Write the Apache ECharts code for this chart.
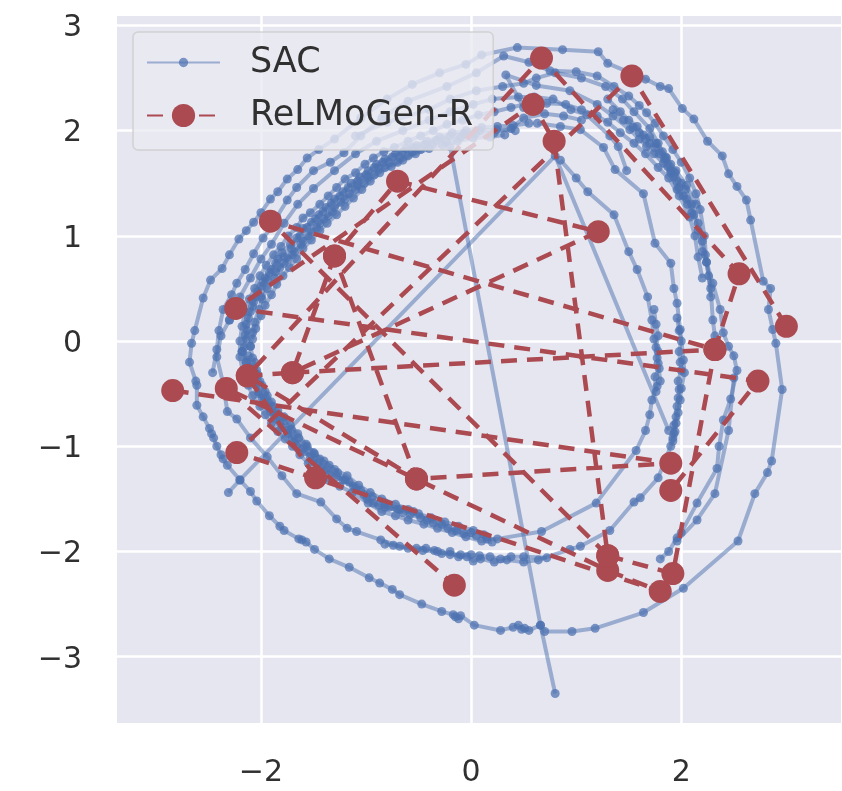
<!DOCTYPE html>
<html><head><meta charset="utf-8">
<style>html,body{margin:0;padding:0;background:#fff}#c{width:842px;height:791px;filter:blur(0.7px)}</style>
<script src="https://cdn.jsdelivr.net/npm/echarts@6/dist/echarts.min.js"></script>
</head><body><div id="c"></div>
<script>
const xTicks=[-2,0,2];
const yTicks=[-3,-2,-1,0,1,2,3];
const sacOuter=[[-2.61,-.42],[-2.61,-.61],[-2.55,-.72],[-2.49,-.83],[-2.47,-.88],[-2.45,-.92],[-2.42,-1.0],[-2.38,-1.08],[-2.36,-1.12],[-2.32,-1.18],[-2.2,-1.32],[-2.1,-1.43],[-2.04,-1.52],[-1.92,-1.66],[-1.82,-1.76],[-1.78,-1.8],[-1.64,-1.88],[-1.61,-1.89],[-1.57,-1.91],[-1.49,-1.98],[-1.35,-2.07],[-1.16,-2.15],[-.97,-2.25],[-.87,-2.3],[-.75,-2.36],[-.68,-2.41],[-.47,-2.5],[-.28,-2.57],[-.17,-2.6],[-.15,-2.62],[-.12,-2.64],[-.1,-2.61],[.03,-2.7],[.28,-2.75],[.4,-2.72],[.45,-2.7],[.48,-2.74],[.51,-2.73],[.55,-2.75],[.66,-2.7],[.7,-2.76],[.96,-2.76],[1.18,-2.73],[1.64,-2.58],[2.02,-2.35],[2.54,-1.9],[2.7,-1.45],[2.82,-1.25],[2.86,-1.14],[2.96,-.46],[2.9,-.02],[2.87,.11],[2.83,.3],[2.85,.5],[2.78,.57],[2.66,1.15],[2.62,1.34],[2.53,1.47],[2.45,1.59],[2.39,1.76],[2.25,1.9],[2.12,2.11],[2.01,2.21],[1.88,2.4],[1.8,2.42],[1.66,2.49],[1.3,2.64],[1.21,2.75],[.87,2.77],[.44,2.79],[.1,2.72],[-.05,2.63],[-.3,2.55],[-.56,2.44],[-.8,2.3],[-1.05,2.12],[-1.3,1.92],[-1.45,1.82],[-1.56,1.74],[-1.65,1.63],[-1.75,1.54],[-1.84,1.42],[-1.91,1.35],[-2.0,1.22],[-2.07,1.13],[-2.14,1.05],[-2.21,.97],[-2.3,.82],[-2.37,.69],[-2.48,.58],[-2.55,.41],[-2.63,.1],[-2.66,-.02],[-2.68,-.2],[-2.62,-.38]];
const sacSecond=[[-2.46,-.3],[-2.42,-.08],[-2.4,.1],[-2.36,.3],[-2.28,.44],[-2.23,.55],[-2.15,.68],[-2.07,.83],[-1.98,.98],[-1.9,1.08],[-1.85,1.18],[-1.75,1.34],[-1.66,1.46],[-1.5,1.62],[-1.34,1.7],[-1.21,1.79],[-1.05,1.95],[-.85,2.12],[-.6,2.28],[-.23,2.42],[.05,2.55],[.31,2.71],[.55,2.65],[.75,2.57],[1.0,2.56],[1.2,2.52],[1.36,2.42],[1.5,2.33],[1.6,2.24],[1.67,2.17],[1.75,2.07],[1.83,1.95],[1.92,1.82],[2.0,1.7],[2.08,1.55],[2.14,1.4],[2.18,1.25],[2.22,1.0],[2.24,.75],[2.3,.55],[2.37,.3],[2.4,.08],[2.45,-.05],[2.5,-.14],[2.53,-.28],[2.47,-.55],[2.4,-.75],[2.36,-1.0],[2.34,-1.21],[2.15,-1.54],[2.0,-1.82],[1.96,-1.87],[1.88,-2.0],[1.8,-2.07]];
const sacThird=[[2.5,-.35],[2.45,-.85],[2.32,-1.45],[2.15,-1.7],[1.96,-1.9]];
const sacLoopC=[[.63,2.07],[.85,2.04],[1.04,2.01],[1.26,1.84],[1.37,1.63],[1.64,1.4],[1.75,.93],[1.9,.74],[1.93,.5],[1.96,.36],[1.99,.11],[2.02,-.18],[2.03,-.3],[2.0,-.45],[1.99,-.56],[1.97,-.68],[1.95,-.78],[1.93,-.88],[1.92,-.95],[1.9,-1.0],[1.78,-1.3],[1.61,-1.49],[1.55,-1.53],[1.32,-1.8],[1.04,-1.95],[.94,-1.98],[.64,-2.08],[.5,-2.1],[.34,-2.08],[.22,-2.1],[.09,-2.07],[.02,-2.09],[-.04,-2.05],[-.12,-2.05],[-.2,-2.0],[-.28,-2.02],[-.35,-1.99],[-.43,-1.97],[-.52,-1.97],[-.68,-1.95],[-.86,-1.89],[-1.09,-1.81],[-1.18,-1.78],[-1.28,-1.69],[-1.43,-1.53],[-1.66,-1.45],[-1.8,-1.28],[-1.94,-1.1],[-2.1,-.92],[-2.23,-.74],[-2.32,-.67],[-2.36,-.4],[-2.42,-.15],[-2.38,.05],[-2.3,.2]];
const sacLoopD=[[.5,2.22],[.33,2.53],[.62,2.43],[.94,2.38],[1.2,2.25],[1.35,2.14],[1.51,2.01],[1.6,1.92],[1.67,1.85],[1.74,1.78],[1.83,1.69],[1.9,1.6],[1.96,1.44],[2.05,1.35],[2.12,1.2],[2.16,1.05],[2.2,.85],[2.24,.75],[2.28,.5],[2.3,.2],[2.32,.05],[2.35,-.12]];
const sacLoopE=[[.85,1.72],[1.0,1.55],[1.11,1.42],[1.36,1.2],[1.5,.85],[1.58,.68],[1.68,.42],[1.72,.2],[1.74,.02],[1.78,-.1],[1.78,-.21],[1.8,-.38],[1.77,-.43],[1.72,-.56],[1.7,-.7],[1.66,-.85],[1.57,-1.04],[1.19,-1.54],[.67,-1.81],[.25,-1.88],[.15,-1.88]];
const sacBandLow1=[[-2.18,-.1],[-2.14,-.2],[-2.1,-.25],[-2.08,-.35],[-2.05,-.42],[-2.02,-.5],[-1.97,-.56],[-1.93,-.63],[-1.88,-.7],[-1.82,-.78],[-1.75,-.85],[-1.7,-.92],[-1.65,-.98],[-1.58,-1.05],[-1.5,-1.13],[-1.42,-1.2],[-1.35,-1.26],[-1.22,-1.32],[-1.12,-1.38],[-1.02,-1.46],[-.93,-1.54],[-.82,-1.58],[-.7,-1.6],[-.58,-1.65],[-.48,-1.68],[-.36,-1.73],[-.22,-1.78],[-.07,-1.83],[.05,-1.85],[.15,-1.86]];
const sacBandLow2=[[-2.1,-.05],[-2.08,-.16],[-2.04,-.28],[-2.01,-.38],[-1.96,-.48],[-1.9,-.58],[-1.84,-.66],[-1.78,-.72],[-1.72,-.8],[-1.65,-.88],[-1.57,-.98],[-1.49,-1.07],[-1.4,-1.14],[-1.3,-1.22],[-1.18,-1.28],[-1.07,-1.37],[-.96,-1.44],[-.85,-1.5],[-.72,-1.55],[-.6,-1.6],[-.5,-1.64],[-.38,-1.68],[-.25,-1.72],[-.12,-1.76],[.02,-1.8],[.12,-1.84]];
const sacBandLow3=[[-2.17,-.3],[-2.12,-.42],[-2.08,-.52],[-2.01,-.62],[-1.96,-.7],[-1.9,-.78],[-1.84,-.86],[-1.77,-.93],[-1.7,-1.0],[-1.63,-1.08],[-1.55,-1.16],[-1.47,-1.24],[-1.36,-1.32],[-1.25,-1.38],[-1.13,-1.44],[-.98,-1.54],[-.85,-1.62],[-.72,-1.66],[-.6,-1.7],[-.45,-1.74],[-.32,-1.78],[-.18,-1.82],[-.05,-1.86],[.1,-1.9],[.2,-1.91]];
const sacBandLow4=[[-2.12,-.14],[-2.1,-.3],[-2.06,-.4],[-2.03,-.48],[-1.99,-.54],[-1.95,-.6],[-1.91,-.67],[-1.86,-.74],[-1.8,-.82],[-1.74,-.88],[-1.68,-.95],[-1.6,-1.02],[-1.53,-1.1],[-1.46,-1.16],[-1.38,-1.22],[-1.28,-1.29],[-1.16,-1.34],[-1.05,-1.42],[-.94,-1.48],[-.82,-1.54],[-.68,-1.6],[-.55,-1.62],[-.42,-1.7],[-.28,-1.74],[-.14,-1.8],[0,-1.82]];
const sacBandLow5=[[-2.06,-.2],[-2.03,-.32],[-1.99,-.42],[-1.94,-.52],[-1.89,-.62],[-1.84,-.7],[-1.78,-.76],[-1.71,-.84],[-1.64,-.92],[-1.56,-1.0],[-1.5,-1.06],[-1.44,-1.12],[-1.35,-1.18],[-1.27,-1.25],[-1.2,-1.32],[-1.1,-1.4],[-.99,-1.5],[-.88,-1.56],[-.78,-1.58],[-.65,-1.63]];
const sacBandUp1=[[-2.18,-.1],[-2.14,.02],[-2.13,.1],[-2.12,.22],[-2.08,.33],[-2.05,.42],[-2.0,.52],[-1.96,.6],[-1.9,.68],[-1.84,.78],[-1.8,.84],[-1.72,.92],[-1.66,.98],[-1.6,1.07],[-1.52,1.13],[-1.45,1.2],[-1.38,1.27],[-1.3,1.35],[-1.22,1.42],[-1.14,1.5],[-1.06,1.56],[-.98,1.62],[-.9,1.68],[-.82,1.73],[-.72,1.78],[-.62,1.83],[-.52,1.86],[-.42,1.9],[-.3,1.94],[-.18,1.98],[-.05,2.0],[.1,2.03],[.25,2.04],[.4,2.05],[.55,2.07]];
const sacBandUp2=[[-2.1,-.05],[-2.08,.08],[-2.06,.18],[-2.02,.3],[-1.99,.4],[-1.94,.5],[-1.87,.6],[-1.82,.7],[-1.74,.78],[-1.68,.85],[-1.6,.95],[-1.52,1.04],[-1.44,1.12],[-1.36,1.19],[-1.3,1.27],[-1.2,1.35],[-1.1,1.44],[-1.02,1.5],[-.92,1.58],[-.82,1.65],[-.7,1.7],[-.6,1.76],[-.48,1.82],[-.37,1.87],[-.24,1.9],[-.1,1.94],[.04,1.97],[.22,1.98],[.38,2.02],[.5,2.12],[.7,2.16],[.88,2.14],[1.05,2.1]];
const sacBandUp3=[[-2.17,-.3],[-2.2,-.15],[-2.2,0],[-2.18,.14],[-2.15,.28],[-2.11,.4],[-2.06,.5],[-2.01,.62],[-1.95,.72],[-1.88,.82],[-1.81,.9],[-1.74,1.0],[-1.66,1.08],[-1.6,1.17],[-1.53,1.22],[-1.44,1.3],[-1.36,1.38],[-1.28,1.46],[-1.2,1.54],[-1.1,1.6],[-1.01,1.68],[-.93,1.74],[-.83,1.8],[-.73,1.84],[-.6,1.9],[-.48,1.95],[-.36,2.0],[-.23,2.06],[-.08,2.1],[.07,2.15],[.22,2.18],[.38,2.22],[.55,2.26],[.72,2.26],[.9,2.25],[1.05,2.2],[1.2,2.14],[1.3,2.08],[1.42,1.98],[1.55,1.88],[1.66,1.78],[1.78,1.65],[1.88,1.55],[1.98,1.38],[2.08,1.18],[2.13,1.0],[2.16,.8],[2.2,.6]];
const sacBandUp4=[[-2.14,-.2],[-2.16,-.06],[-2.15,.06],[-2.14,.16],[-2.1,.28],[-2.07,.37],[-2.03,.47],[-1.98,.56],[-1.92,.65],[-1.86,.74],[-1.78,.8],[-1.71,.88],[-1.63,1.0],[-1.56,1.08],[-1.48,1.16],[-1.41,1.23],[-1.33,1.31],[-1.25,1.38],[-1.17,1.46],[-1.08,1.52],[-1.0,1.58],[-.92,1.65],[-.84,1.7],[-.75,1.75],[-.65,1.8],[-.55,1.84],[-.44,1.87],[-.33,1.91],[-.2,1.95],[-.07,1.97],[.08,2.0],[.24,2.01],[.42,2.0]];
const sacBandUp5=[[-2.08,.02],[-2.05,.12],[-2.0,.24],[-1.96,.34],[-1.9,.44],[-1.85,.54],[-1.79,.62],[-1.73,.7],[-1.66,.78],[-1.6,.88],[-1.52,.96],[-1.44,1.05],[-1.37,1.12],[-1.28,1.2],[-1.2,1.28],[-1.12,1.36],[-1.04,1.44],[-.96,1.52],[-.87,1.6],[-.76,1.66],[-.65,1.72],[-.53,1.78],[-.4,1.83],[-.27,1.86],[-.13,1.9],[.02,1.93],[.18,1.94],[.32,1.96]];
const sacBandUp6=[[-2.0,.42],[-1.94,.58],[-1.86,.66],[-1.78,.74],[-1.7,.82],[-1.62,.92],[-1.55,1.0],[-1.47,1.08],[-1.4,1.16],[-1.32,1.23],[-1.24,1.32],[-1.16,1.4],[-1.08,1.48],[-.98,1.56],[-.88,1.64],[-.78,1.7],[-.68,1.75],[-.56,1.8]];
const sacRight1=[[1.35,2.2],[1.45,2.1],[1.54,2.03],[1.6,1.98],[1.66,1.92],[1.7,1.88],[1.75,1.84],[1.79,1.78],[1.84,1.73],[1.87,1.66],[1.9,1.62],[1.93,1.56],[1.96,1.52],[1.98,1.46],[2.02,1.38],[2.06,1.3],[2.1,1.22]];
const sacRight2=[[1.3,2.3],[1.42,2.18],[1.5,2.1],[1.58,2.04],[1.64,1.96],[1.7,1.94],[1.76,1.88],[1.82,1.8],[1.86,1.74],[1.9,1.68],[1.94,1.6],[2.0,1.5],[2.04,1.44],[2.1,1.3],[2.16,1.12],[2.2,.95],[2.23,.82],[2.26,.62],[2.28,.42]];
const sacRight3=[[1.96,.22],[1.98,.1],[2.0,0],[1.98,-.1],[1.99,-.2],[2.0,-.28],[1.97,-.38],[1.98,-.46],[1.97,-.54],[1.96,-.62],[1.95,-.72],[1.93,-.8],[1.94,-.86],[1.92,-.92]];
const sacRight4=[[1.74,.3],[1.76,.16],[1.78,.05],[1.76,-.06],[1.77,-.16],[1.79,-.26],[1.75,-.34],[1.76,-.48]];
const sacBottom=[[.72,-2.06],[.5,-2.05],[.38,-2.05],[.28,-2.07],[.18,-2.05],[.08,-2.04],[0,-2.03],[-.1,-2.03],[-.2,-2.03],[-.32,-2.0],[-.46,-1.99],[-.6,-1.97],[-.74,-1.94],[-.82,-1.93]];
const sacTop=[[-1.1,1.95],[-.8,2.08],[-.4,2.2],[-.2,2.3],[.05,2.38],[.3,2.42],[.5,2.45],[.62,2.5],[.8,2.55],[1.05,2.5],[1.28,2.42],[1.44,2.3],[1.55,2.18],[1.7,2.02],[1.78,1.88],[1.85,1.75],[1.95,1.62],[2.05,1.48],[2.14,1.3]];
const sacInner=[[-2.3,.2],[-2.2,.42],[-2.1,.6],[-2.0,.78],[-1.9,.92],[-1.78,1.12],[-1.65,1.3],[-1.5,1.45],[-1.3,1.62],[-1.1,1.78],[-.9,1.9],[-.65,2.0],[-.4,2.1],[-.2,2.18],[.02,2.25],[.2,2.3],[.45,2.32],[.6,2.32],[.78,2.3],[.95,2.2],[1.1,2.15],[1.32,1.95],[1.4,1.85],[1.48,1.62]];
const sacStraight1=[[.8,-3.35],[.66,-2.7],[-.2,1.85]];
const sacStraight2=[[-2.31,-1.44],[-2.2,-1.32],[.8,1.76],[1.88,-.85]];
const sacPaths=[sacOuter,sacSecond,sacThird,sacLoopC,sacLoopD,sacLoopE,sacBandLow1,sacBandLow2,sacBandLow3,sacBandLow4,sacBandLow5,sacBandUp1,sacBandUp2,sacBandUp3,sacBandUp4,sacBandUp5,sacBandUp6,sacRight1,sacRight2,sacRight3,sacRight4,sacBottom,sacTop,sacInner,sacStraight1,sacStraight2];
const redPath1=[[-2.84,-.47],[1.9,-1.16],[-.52,-1.31],[-1.3,.81],[-.7,1.52],[1.21,1.04],[-1.7,-.3],[2.32,-.08],[1.92,-2.21],[1.3,-2.04],[.79,1.9],[.59,2.25],[-2.24,.31],[2.73,-.38],[1.9,-1.42]];
const redPath2=[[3.0,.14],[1.53,2.52],[-2.23,-1.06],[1.8,-2.38],[1.3,-2.18],[-2.33,-.45],[-.16,-2.32]];
const redPath3=[[-1.48,-1.3],[-2.13,-.33],[-.52,-1.31]];
const redPath4=[[1.3,-2.04],[-1.91,1.14],[2.32,-.08],[2.55,.64],[.67,2.69],[-2.13,-.33],[-1.7,-.3],[-1.3,.81]];
const redPaths=[redPath1,redPath2,redPath3,redPath4];
const blue='rgba(76,114,176,0.5)', blueDot='rgba(76,114,176,0.72)', red='#ab4a50';
const axisText={color:'#303030',fontSize:30,fontFamily:'DejaVu Sans'};
const fmt=v=>String(v).replace('-','\u2212');
const legendDot='path://M0 0L0 0M100 100L100 100M30 50A20 20 0 1 1 70 50A20 20 0 1 1 30 50Z';
const series=[{name:'SAC',type:'line',data:[],symbol:legendDot,symbolSize:9,
  lineStyle:{color:blue,width:4},itemStyle:{color:blueDot}}];
sacPaths.forEach(p=>series.push({name:'SAC',type:'line',data:p,symbol:'circle',symbolSize:9,silent:true,
  lineStyle:{color:blue,width:4},itemStyle:{color:blueDot},z:2}));
redPaths.forEach(p=>series.push({name:'ReLMoGen-R',type:'line',data:p,symbol:'circle',symbolSize:23,silent:true,
  lineStyle:{color:red,width:4.5,type:[16,10]},itemStyle:{color:red},z:3}));
const chart=echarts.init(document.getElementById('c'),null,{renderer:'canvas'});
chart.setOption({animation:false,backgroundColor:'#fff',
  grid:{left:117,top:16,right:1,bottom:68,show:true,backgroundColor:'#e6e6f0',borderWidth:0},
  xAxis:{type:'value',min:-3.37,max:3.52,axisLine:{show:false},axisTick:{show:false,customValues:xTicks},
    axisLabel:Object.assign({customValues:xTicks,margin:35,formatter:fmt,showMinLabel:true,showMaxLabel:true},axisText),
    splitLine:{show:true,lineStyle:{color:'#fff',width:2.5}}},
  yAxis:{type:'value',min:-3.63,max:3.09,axisLine:{show:false},axisTick:{show:false,customValues:yTicks},
    axisLabel:Object.assign({customValues:yTicks,margin:35,formatter:fmt,verticalAlign:'top',lineHeight:6},axisText),
    splitLine:{show:true,lineStyle:{color:'#fff',width:2.5}}},
  legend:{show:true,orient:'vertical',left:133,top:32,padding:[13,20,17,13],itemWidth:73,itemHeight:29,itemGap:18,
    backgroundColor:'rgba(234,234,242,0.8)',borderColor:'rgba(204,204,204,0.8)',borderWidth:1.5,borderRadius:5,
    data:['SAC','ReLMoGen-R'],
    textStyle:{color:'#303030',fontSize:35,fontFamily:'DejaVu Sans',padding:[0,0,0,25]}},
  series:series});
</script></body></html>
